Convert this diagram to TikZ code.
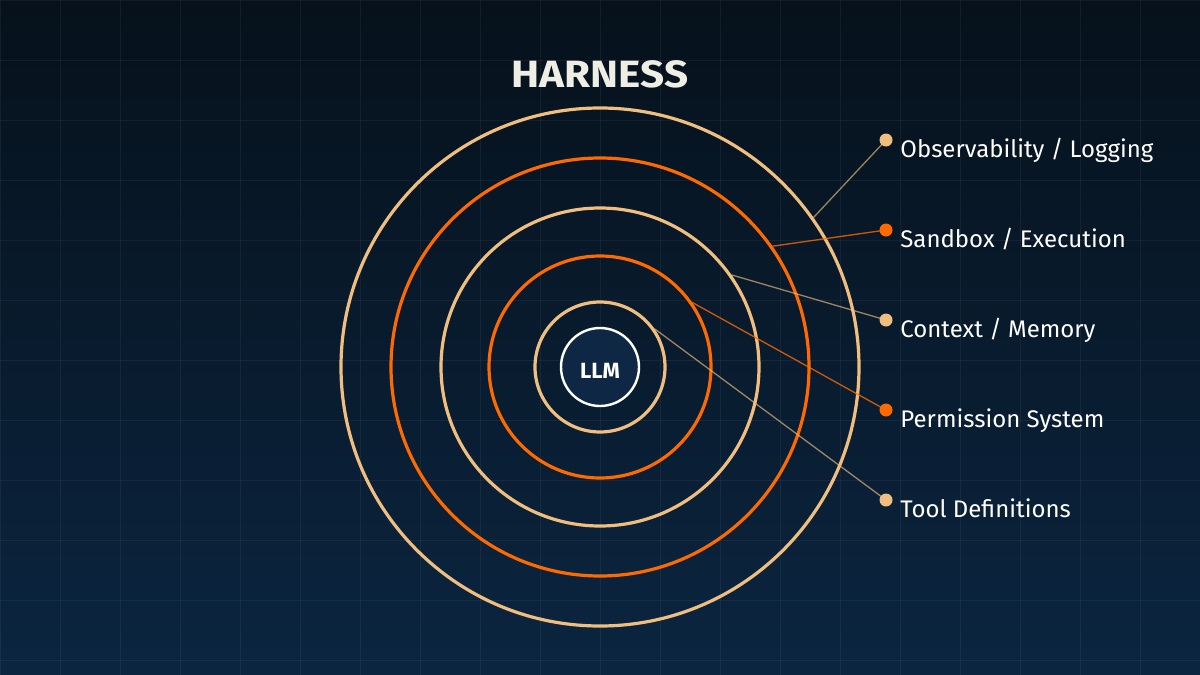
\documentclass[tikz,border=0pt]{standalone}
\usepackage{fontspec}
\setmainfont{Fira Sans}
\definecolor{bgtop}{HTML}{06111B}
\definecolor{bgbot}{HTML}{0B2540}
\definecolor{beige}{HTML}{F0BE7E}
\definecolor{orng}{HTML}{FF6A00}
\definecolor{cream}{HTML}{EEEEE4}
\definecolor{llmfill}{HTML}{0E2744}
\tikzset{
  ring/.style={circle, draw, line width=1.6pt, inner sep=0pt, fill=none},
  beigering/.style={ring, draw=beige},
  orangering/.style={ring, draw=orng},
  dotb/.style={circle, fill=beige, inner sep=0pt, minimum size=6.5pt},
  doto/.style={circle, fill=orng, inner sep=0pt, minimum size=6.5pt},
  connb/.style={draw=beige, draw opacity=0.65, line width=0.65pt},
  conno/.style={draw=orng, draw opacity=0.8, line width=0.65pt},
  lbl/.style={anchor=base west, inner sep=0pt, text=white, font=\fontsize{12}{14}\selectfont},
  gridline/.style={draw=white, draw opacity=0.05, line width=0.5pt}
}
\begin{document}
\begin{tikzpicture}[x=0.5pt, y=-0.5pt]
\shade[top color=bgtop, bottom color=bgbot] (0,0) rectangle (1200,675);
\useasboundingbox (0,0) rectangle (1200,675);
\foreach \gx in {0,60,...,1200} \draw[gridline] (\gx,0) -- (\gx,675);
\foreach \gy in {0,60,...,660} \draw[gridline] (0,\gy) -- (1200,\gy);

\node[anchor=base, inner sep=0pt, text=cream, font=\fontsize{19}{21}\bfseries] (title) at (600,87) {\scalebox{1.11}[1]{HARNESS}};

\node[beigering, minimum size=259pt] (r1) at (600,367) {};
\node[orangering, minimum size=209pt] (r2) at (600,367) {};
\node[beigering, minimum size=159pt] (r3) at (600,367) {};
\node[orangering, minimum size=111pt] (r4) at (600,367) {};
\node[beigering, minimum size=65pt] (r5) at (600,367) {};
\node[circle, draw=white, line width=1.2pt, fill=llmfill, inner sep=0pt, minimum size=39pt] (llm) at (600,367) {};
\node[anchor=base, inner sep=0pt, text=white, font=\fontsize{11}{13}\bfseries] (llmt) at (600,378) {LLM};

\node[dotb] (d1) at (886,140) {};
\node[doto] (d2) at (886,230) {};
\node[dotb] (d3) at (886,320) {};
\node[doto] (d4) at (886,410) {};
\node[dotb] (d5) at (886,500) {};

\draw[connb] (d1.center) -- (r1.35);
\draw[conno] (d2.center) -- (r2.35);
\draw[connb] (d3.center) -- (r3.35);
\draw[conno] (d4.center) -- (r4.35);
\draw[connb] (d5.center) -- (r5.35);

\node[lbl] (l1) at (900,157) {Observability / Logging};
\node[lbl] (l2) at (900,247) {Sandbox / Execution};
\node[lbl] (l3) at (900,337) {Context / Memory};
\node[lbl] (l4) at (900,427) {Permission System};
\node[lbl] (l5) at (900,517) {Tool Definitions};
\end{tikzpicture}
\end{document}
